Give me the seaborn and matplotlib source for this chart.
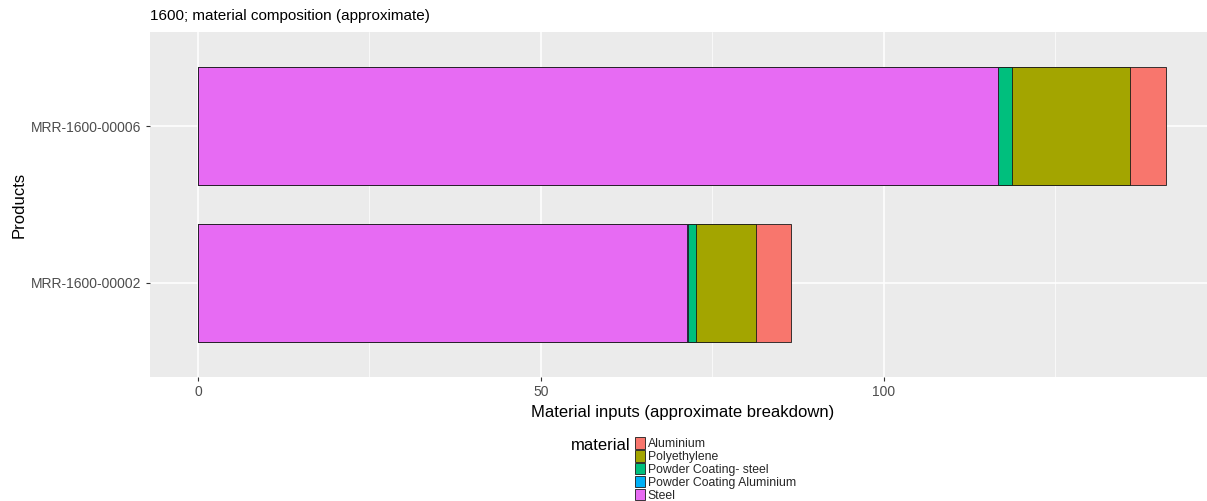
import numpy as np
import pandas as pd
import matplotlib
matplotlib.use('Agg')
import matplotlib.pyplot as plt
from matplotlib.patches import Patch
from matplotlib.ticker import MultipleLocator
import seaborn as sns

# ── DATA ──────────────────────────────────────────────────────────────────────
products = ['MRR-1600-00006', 'MRR-1600-00002']
materials = ['Aluminium', 'Polyethylene', 'Powder Coating- steel',
             'Powder Coating Aluminium', 'Steel']
aluminium = [5.2, 5.2]
polyethylene = [17.2, 8.7]
powder_steel = [2.0, 1.2]
powder_alu = [0.1, 0.1]
steel = [116.6, 71.3]

colors = ['#F8766D', '#A3A500', '#00BF7D', '#00B0F6', '#E76BF3']

df = pd.DataFrame({
    'product': products,
    'Steel': steel,
    'Powder Coating Aluminium': powder_alu,
    'Powder Coating- steel': powder_steel,
    'Polyethylene': polyethylene,
    'Aluminium': aluminium,
})

# stacked left->right: Steel, PC Alu, PC steel, Polyethylene, Aluminium
stack = ['Steel', 'Powder Coating Aluminium', 'Powder Coating- steel',
         'Polyethylene', 'Aluminium']
cum = df[stack].cumsum(axis=1)

# ── PLOT ──────────────────────────────────────────────────────────────────────
sns.set_theme(style='darkgrid', rc={'axes.facecolor': '#EBEBEB',
                                    'grid.color': 'white'})
plt.rcParams['font.family'] = ['Liberation Sans', 'DejaVu Sans']

W, H = 1207, 501
fig = plt.figure(figsize=(W / 100, H / 100), dpi=100)
ax = fig.add_axes([150 / W, 1 - 377 / H, 1 - 150 / W, (377 - 32) / H])

col = dict(zip(materials, colors))
for m in reversed(stack):
    sns.barplot(x=cum[m], y=df['product'], order=products, orient='h',
                color=col[m], width=0.75, edgecolor='#1a1a1a', linewidth=0.6,
                saturation=1, ax=ax)

ax.set_xlim(-7.0, 147.1)
ax.set_ylim(1.6, -0.6)
ax.xaxis.set_major_locator(MultipleLocator(50))
ax.xaxis.set_minor_locator(MultipleLocator(25))
ax.grid(which='major', color='white', linewidth=1.1)
ax.grid(which='minor', color='white', linewidth=0.5)
ax.set_axisbelow(True)
for s in ax.spines.values():
    s.set_visible(False)
ax.tick_params(axis='both', which='major', length=3, width=0.8, color='#333333',
               labelsize=10, labelcolor='#4D4D4D', pad=3, bottom=True, left=True)
ax.tick_params(axis='x', which='minor', length=0)

ax.set_xlabel('Material inputs (approximate breakdown)', fontsize=12,
              color='black', labelpad=4)
ax.xaxis.set_label_coords(0.504, -0.08)
ax.set_ylabel('Products', fontsize=12, color='black', labelpad=3)
fig.text(150 / W, 1 - 16 / H, '1600; material composition (approximate)',
         fontsize=11, color='black', va='center', ha='left')

# legend at bottom
handles = [Patch(facecolor=c, edgecolor='#1a1a1a', linewidth=0.6) for c in colors]
fig.text(631 / W, 1 - 445 / H, 'material', fontsize=12, ha='right',
         va='center', color='black')
fig.legend(handles, materials, loc='upper left',
           bbox_to_anchor=(635 / W, 1 - 437 / H), frameon=False,
           fontsize=8.8, handlelength=0.8, handleheight=1.08, handletextpad=0.25,
           labelspacing=0.0, borderpad=0, borderaxespad=0)

fig.savefig('out.png', dpi=100)
